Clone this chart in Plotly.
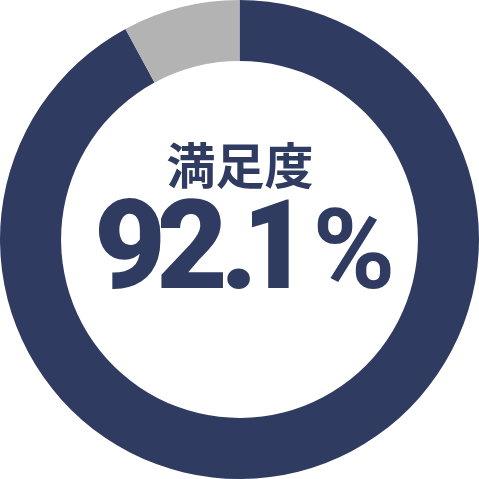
import plotly.graph_objects as go

labels = ["満足", "その他"]
values = [92.1, 7.9]
colors = ["#2f3b60", "#b3b3b3"]
title_text = "満足度"
value_chars = ["9", "2", ".", "1"]
percent_sign = "%"

W = 479
fig = go.Figure(go.Pie(
    labels=labels, values=values, hole=0.745, sort=False,
    direction="clockwise", rotation=0,
    marker=dict(colors=colors, line=dict(width=0)),
    textinfo="none", hoverinfo="skip", showlegend=False,
    domain=dict(x=[0, 1], y=[0, 1]),
))

navy = colors[0]
num_font = "Roboto, Liberation Sans, Arial"
ann = []
ann.append(dict(text=title_text, x=240 / W, y=1 - 162 / W, xref="paper", yref="paper",
                xanchor="center", yanchor="middle", showarrow=False,
                width=156, height=60,
                font=dict(family="Noto Sans CJK JP", size=49, color=navy, weight=700)))
xs = [130, 192, 239, 274]
ws = [62, 62, 28, 44]
for ch, xp, wd in zip(value_chars, xs, ws):
    ann.append(dict(text=ch, x=xp / W, y=1 - 245 / W, xref="paper", yref="paper",
                    xanchor="center", yanchor="middle", showarrow=False,
                    width=wd, height=100,
                    font=dict(family=num_font, size=124, color=navy, weight=900)))
ann.append(dict(text=percent_sign, x=354 / W, y=1 - 249 / W, xref="paper", yref="paper",
                xanchor="center", yanchor="middle", showarrow=False,
                width=80, height=100,
                font=dict(family=num_font, size=112, color=navy, weight=700)))

fig.update_layout(width=W, height=W, margin=dict(l=0, r=0, t=0, b=0),
                  paper_bgcolor="white", plot_bgcolor="white", annotations=ann)
fig.write_html("out.html", config=dict(displayModeBar=False),
               post_script="document.body.style.margin='0';")
